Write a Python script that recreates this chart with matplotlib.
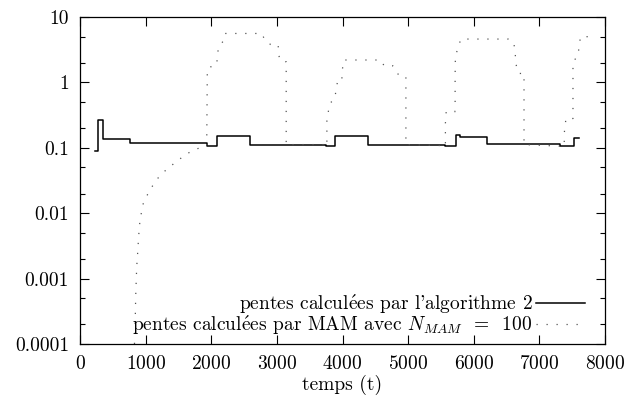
import numpy as np
import matplotlib
matplotlib.use("Agg")
import matplotlib.pyplot as plt
from matplotlib.ticker import FixedLocator, FixedFormatter, NullFormatter

plt.rcParams['font.family'] = ['cmr10', 'DejaVu Serif']
plt.rcParams['mathtext.fontset'] = 'cm'
plt.rcParams['axes.formatter.use_mathtext'] = True

# pentes calculees par l'algorithme 2 (paliers)
algo_t = [229, 280, 355, 762, 1931, 2093, 2591, 3750, 3887, 4395,
          5564, 5732, 5793, 6209, 7307, 7535, 7611]
algo_v = [0.088, 0.27, 0.137, 0.12, 0.108, 0.15, 0.112, 0.107, 0.152, 0.112,
          0.107, 0.158, 0.147, 0.116, 0.107, 0.14, 0.14]

# pentes calculees par MAM, N_MAM = 100
mam_t = [830, 838, 849, 864, 879, 894, 915, 966, 1067, 1194, 1321, 1474, 1626,
         1778, 1931, 1940, 1988, 2088, 2088, 2120, 2185, 2210, 2770, 2822, 2904,
         3021, 3021, 3074, 3142, 3142, 3740, 3762, 3762, 3794, 3810, 3879, 3905,
         3926, 3990, 3995, 4022, 4582, 4635, 4768, 4821, 4891, 4966, 4966, 5540,
         5568, 5568, 5580, 5712, 5716, 5716, 5720, 5755, 5797, 5810, 6524, 6608,
         6634, 6634, 6687, 6766, 6766, 7219, 7379, 7379, 7405, 7512, 7512, 7592,
         7607, 7628, 7831]
mam_v = [0.0001, 0.00015, 0.00055, 0.0015, 0.0025, 0.0045, 0.008, 0.0144, 0.023,
         0.035, 0.047, 0.062, 0.081, 0.096, 0.108, 1.6, 1.72, 1.9, 2.65, 3.5,
         4.33, 5.6, 5.6, 4.33, 3.8, 3.74, 2.65, 2.07, 2.07, 0.112, 0.112, 0.105,
         0.28, 0.4, 0.48, 0.56, 0.78, 1.07, 1.07, 1.52, 2.2, 2.2, 1.79, 1.79,
         1.43, 1.2, 1.2, 0.112, 0.108, 0.105, 0.237, 0.355, 0.355, 0.47, 1.27,
         2.43, 3.3, 4.37, 4.6, 4.6, 4.1, 2.85, 2.02, 1.37, 1.37, 0.112, 0.107,
         0.105, 0.166, 0.28, 0.28, 2.0, 2.7, 3.74, 5.0, 5.0]

y_ticks = [0.0001, 0.001, 0.01, 0.1, 1, 10]
y_labels = ['0.0001', '0.001', '0.01', '0.1', '1', '10']
x_ticks = [0, 1000, 2000, 3000, 4000, 5000, 6000, 7000, 8000]

# cmr10 n'a pas le glyphe é : on passe par l'accent mathtext
# (l'apostrophe ASCII donne deja le ’ dans cmr10)
e_aigu = r'$\mathrm{\acute{e}}$'
label_algo = 'pentes calcul' + e_aigu + "es par l'algorithme 2"
label_mam = 'pentes calcul' + e_aigu + r'es par MAM avec $N_{MAM}\;\;=\;\;100$'

fig = plt.figure(figsize=(6.28, 4.01), dpi=100)
ax = fig.add_axes([80 / 628, 1 - 344 / 401, 525 / 628, 327 / 401])

ax.plot(algo_t, algo_v, drawstyle='steps-post', color='black', lw=1.1,
        label=label_algo)
ax.plot(mam_t, mam_v, color='#555555', lw=0.9, linestyle=(0, (1, 7)),
        label=label_mam)

ax.set_yscale('log')
ax.set_xlim(0, 8000)
ax.set_ylim(0.0001, 10)

ax.yaxis.set_major_locator(FixedLocator(y_ticks))
ax.yaxis.set_major_formatter(FixedFormatter(y_labels))
minors = [m * 10.0 ** e for e in range(-4, 1) for m in (2, 5)]
ax.yaxis.set_minor_locator(FixedLocator(minors))
ax.yaxis.set_minor_formatter(NullFormatter())
ax.set_xticks(x_ticks)

ax.tick_params(which='both', direction='in', top=True, right=True,
               labelsize=14, pad=8)
ax.tick_params(which='major', length=6.5, width=0.8)
ax.tick_params(which='minor', length=3.5, width=0.8)
for s in ax.spines.values():
    s.set_linewidth(0.9)

ax.set_xlabel('temps (t)', fontsize=14, labelpad=1)

ax.legend(loc='lower right', bbox_to_anchor=(505 / 525, 7 / 327),
          frameon=False, markerfirst=False, fontsize=14,
          handlelength=2.5, handletextpad=0.2, labelspacing=-0.1,
          borderaxespad=0, borderpad=0)

fig.savefig('out.png', dpi=100)
